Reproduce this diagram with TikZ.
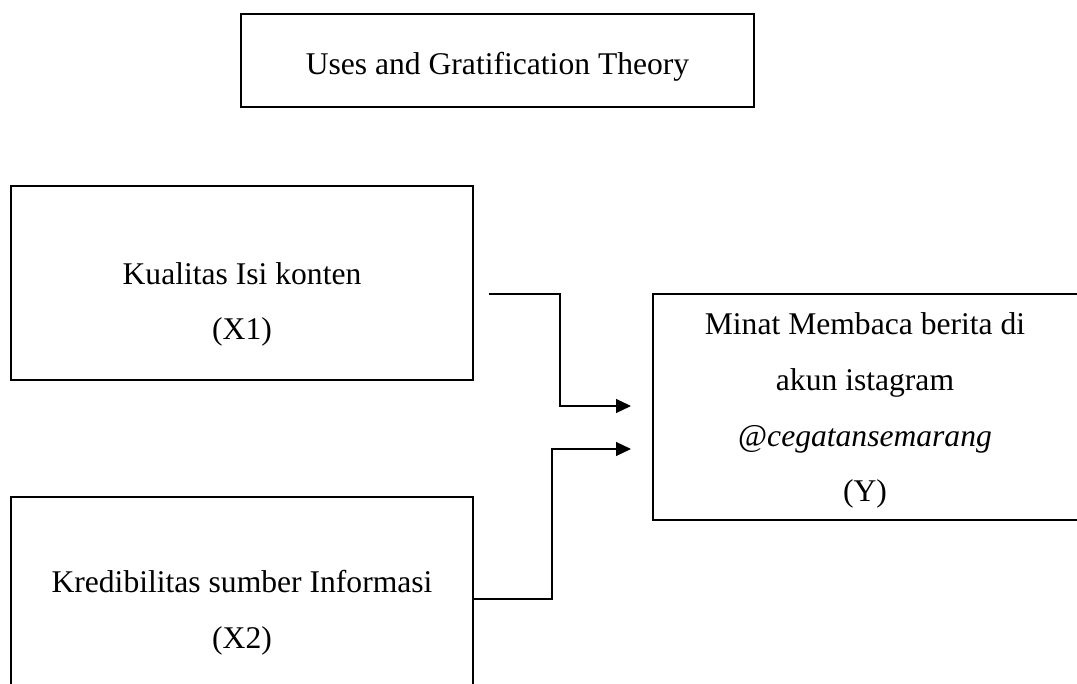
\documentclass[tikz,border=0pt]{standalone}
\usepackage{fontspec}
\setmainfont{Liberation Serif}
\usetikzlibrary{arrows.meta}
\begin{document}
\begin{tikzpicture}[x=1pt,y=-1pt,
  box/.style={draw=black,line width=1.4pt,rectangle,inner sep=0pt,outer sep=0pt},
  txt/.style={anchor=base,inner sep=0pt,font=\fontsize{31.6}{40}\selectfont},
  conn/.style={draw=black,line width=1.2pt,-{Triangle[length=15pt,width=14pt]}}]
\useasboundingbox (0,0) rectangle (1077,684);
\clip (0,0) rectangle (1077,684);
% boxes
\node[box,minimum width=513pt,minimum height=93pt] (top) at (497.5,60.5) {};
\node[box,minimum width=462pt,minimum height=194pt] (x1) at (242,283) {};
\node[box,minimum width=462pt,minimum height=240pt] (x2) at (242,617) {};
\node[box,minimum width=426pt,minimum height=226pt] (y) at (866,407) {};
% texts
\node[txt] (ttop) at (497.5,75) {Uses and Gratification Theory};
\node[txt] (x1a) at (242,285) {Kualitas Isi konten};
\node[txt] (x1b) at (242,340) {(X1)};
\node[txt] (x2a) at (242,592) {Kredibilitas sumber Informasi};
\node[txt] (x2b) at (242,648) {(X2)};
\node[txt] (ya) at (865,335) {Minat Membaca berita di};
\node[txt] (yb) at (865,391) {akun istagram};
\node[txt] (yc) at (865,447) {@\textit{cegatansemarang}};
\node[txt] (yd) at (865,502) {(Y)};
% connectors
\coordinate (c1) at (489,294);
\coordinate (e1) at (631,406);
\coordinate (c2) at (x2.east |- 0,599);
\coordinate (e2) at (631,449);
\draw[conn] (c1) -- (560,294) |- (e1);
\draw[conn] (c2) -- (552,599) |- (e2);
\end{tikzpicture}
\end{document}
